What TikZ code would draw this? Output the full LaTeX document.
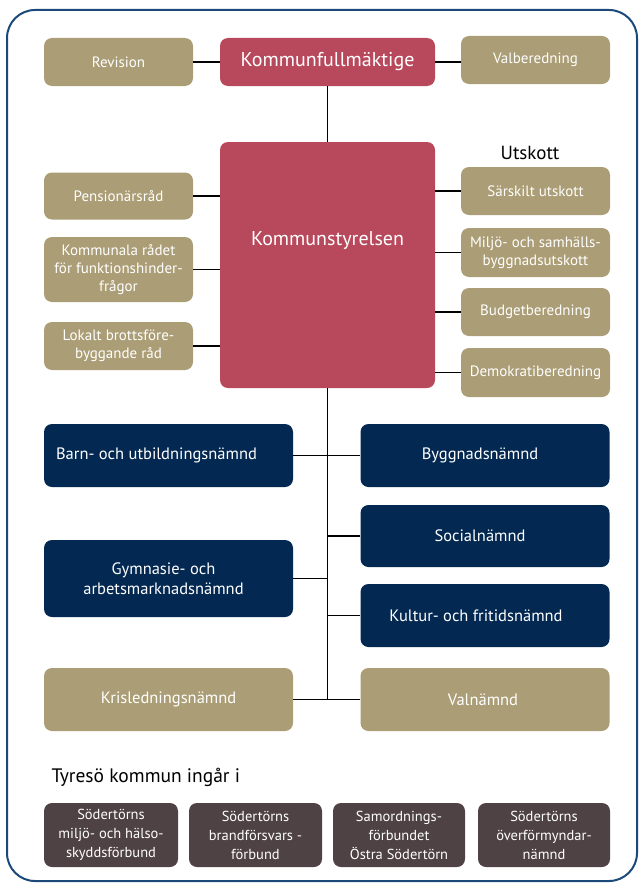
\documentclass[tikz,border=0pt]{standalone}
\usepackage{fontspec}
\setmainfont{PT Sans}
\definecolor{tanc}{HTML}{AB9D75}
\definecolor{redc}{HTML}{B8495C}
\definecolor{navyc}{HTML}{032851}
\definecolor{brownc}{HTML}{4E4244}
\definecolor{framec}{HTML}{1B4A7A}
\tikzset{
  box/.style={rounded corners=8pt, text=white, align=center, inner sep=2pt, font=\fontsize{15}{18}\selectfont},
  tanbox/.style={box, fill=tanc},
  redbox/.style={box, fill=redc, font=\fontsize{20}{22}\selectfont},
  navybox/.style={box, fill=navyc, font=\fontsize{16.5}{20.5}\selectfont},
  tanbig/.style={box, fill=tanc, font=\fontsize{16.5}{21}\selectfont},
  brownbox/.style={box, fill=brownc, font=\fontsize{14.5}{19}\selectfont},
  conn/.style={line width=1.6pt, black},
}
\begin{document}
\begin{tikzpicture}[x=1pt, y=-1pt]
\useasboundingbox (0,0) rectangle (640,883);
\draw[framec, line width=2pt, rounded corners=28pt] (7,10) rectangle (637,881);

% top row
\node[tanbox, minimum width=149pt, minimum height=48pt] (rev) at (118.5,62) {Revision};
\node[redbox, minimum width=215pt, minimum height=48pt] (kf) at (327.5,62) {Kommunfullmäktige};
\node[tanbox, minimum width=149pt, minimum height=48pt] (val) at (535.5,60) {Valberedning};

% Kommunstyrelsen
\node[redbox, minimum width=215pt, minimum height=246pt] (ks) at (327.5,265) {};
\node[font=\fontsize{20}{22}\selectfont, text=white] (kstext) at (327.5,241) {Kommunstyrelsen};

\node[font=\fontsize{19}{22}\selectfont] (utskott) at (530,153) {Utskott};

% left councils
\node[tanbox, minimum width=149pt, minimum height=47pt] (pens) at (118.5,196) {Pensionärsråd};
\node[tanbox, minimum width=149pt, minimum height=65pt] (kfr) at (118.5,269.5) {Kommunala rådet\\för funktionshinder-\\frågor};
\node[tanbox, minimum width=149pt, minimum height=48pt] (lbr) at (118.5,346) {Lokalt brottsföre-\\byggande råd};

% right committees
\node[tanbox, minimum width=149pt, minimum height=48pt] (sar) at (535.5,191) {Särskilt utskott};
\node[tanbox, minimum width=149pt, minimum height=49pt] (mil) at (535.5,252.5) {Miljö- och samhälls-\\byggnadsutskott};
\node[tanbox, minimum width=149pt, minimum height=48pt] (bud) at (535.5,312) {Budgetberedning};
\node[tanbox, minimum width=149pt, minimum height=49pt] (dem) at (535.5,372.5) {Demokratiberedning};

% boards
\node[navybox, minimum width=249pt, minimum height=63pt] (barn) at (168.5,455.5) {Barn- och utbildningsnämnd\kern24pt};
\node[navybox, minimum width=249pt, minimum height=63pt] (bygg) at (485,455.5) {Byggnadsnämnd\kern10pt};
\node[navybox, minimum width=249pt, minimum height=62pt] (soc) at (485,536) {Socialnämnd\kern10pt};
\node[navybox, minimum width=249pt, minimum height=77pt] (gym) at (168.5,578.5) {Gymnasie- och\kern10pt\\arbetsmarknadsnämnd\kern10pt};
\node[navybox, minimum width=249pt, minimum height=63pt] (kul) at (485,615.5) {Kultur- och fritidsnämnd\kern18pt};
\node[tanbig, minimum width=249pt, minimum height=63pt] (kris) at (168.5,699.5) {Krisledningsnämnd};
\node[tanbig, minimum width=249pt, minimum height=63pt] (valn) at (485,699.5) {Valnämnd\kern4pt};

% bottom
\node[font=\fontsize{19.5}{22}\selectfont, anchor=west] (tyr) at (48,777) {Tyresö kommun ingår i};
\node[brownbox, minimum width=134pt, minimum height=64pt] (b1) at (111,835) {Södertörns\\miljö- och hälso-\\skyddsförbund};
\node[brownbox, minimum width=133pt, minimum height=64pt] (b2) at (255.5,835) {Södertörns\\brandförsvars -\\förbund};
\node[brownbox, minimum width=132pt, minimum height=64pt] (b3) at (399,835) {Samordnings-\\förbundet\\Östra Södertörn};
\node[brownbox, minimum width=132pt, minimum height=64pt] (b4) at (544,835) {Södertörns\\överförmyndar-\\nämnd};

% connectors
\coordinate (trunkend) at (327.5,700);
\draw[conn] (rev) -- (kf);
\draw[conn] (kf.east) -- (kf.east -| val.west);
\draw[conn] (kf) -- (ks);
\draw[conn] (ks.south) -- (trunkend);
\draw[conn] (pens.east) -- (pens.east -| ks.west);
\draw[conn] (kfr.east) -- (kfr.east -| ks.west);
\draw[conn] (lbr.east) -- (lbr.east -| ks.west);
\draw[conn] (sar.west) -- (sar.west -| ks.east);
\draw[conn] (mil.west) -- (mil.west -| ks.east);
\draw[conn] (bud.west) -- (bud.west -| ks.east);
\draw[conn] (dem.west) -- (dem.west -| ks.east);
\draw[conn] (barn) -- (bygg);
\draw[conn] (soc.west) -- (soc.west -| trunkend);
\draw[conn] (gym.east) -- (gym.east -| trunkend);
\draw[conn] (kul.west) -- (kul.west -| trunkend);
\draw[conn] (kris) -- (valn);
\end{tikzpicture}
\end{document}
